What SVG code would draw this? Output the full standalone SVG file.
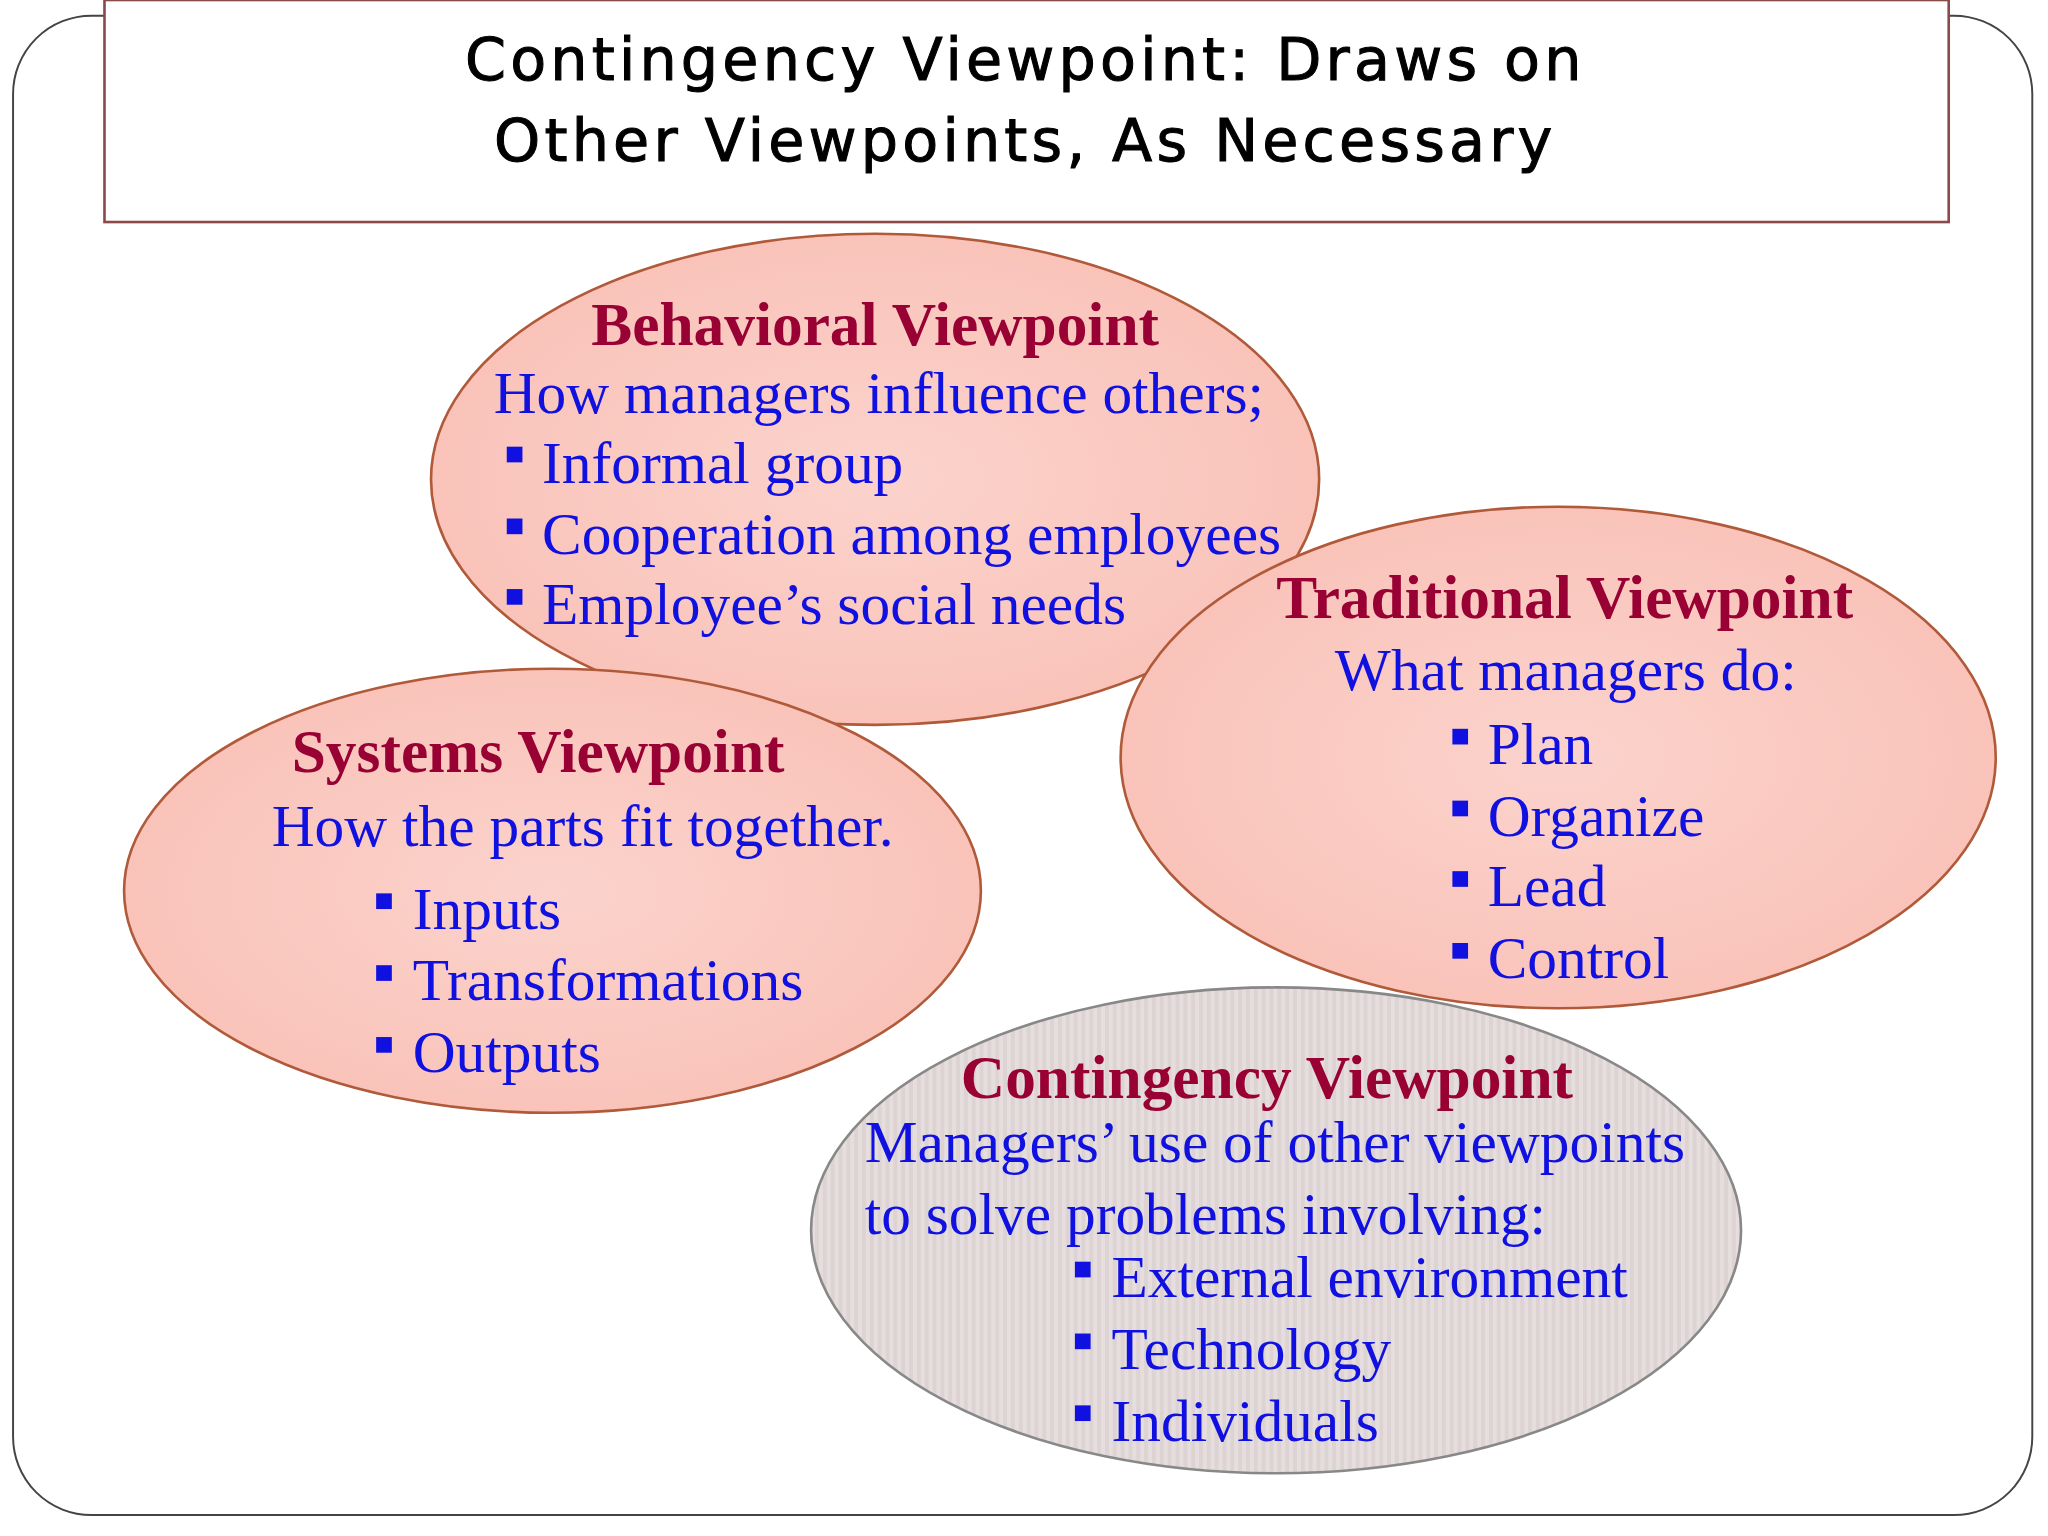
<svg xmlns="http://www.w3.org/2000/svg" width="2048" height="1536" viewBox="0 0 2048 1536">
<style>
.h{font-family:"Liberation Serif",serif;font-weight:bold;font-size:47px;fill:#990033}
.b{font-family:"Liberation Serif",serif;font-size:45.5px;fill:#1010e0}
.t{font-family:"DejaVu Sans",sans-serif;font-size:45px;fill:#000;letter-spacing:3.2px;stroke:#000;stroke-width:0.8}
.e{fill:url(#pk);stroke:#b05a3a;stroke-width:2}
.bu{fill:#1010e0}
</style>
<defs>
<radialGradient id="pk" cx="0.5" cy="0.5" r="0.6"><stop offset="0" stop-color="#fbd3cc"/><stop offset="1" stop-color="#f9c0b6"/></radialGradient>
<pattern id="st" width="6" height="6" patternUnits="userSpaceOnUse"><rect width="6" height="6" fill="#e6dede"/><rect width="3" height="6" fill="#ddd3d3"/></pattern>
</defs>
<rect width="2048" height="1536" fill="#fff"/>
<g transform="scale(1.3061)">
<rect x="10" y="12" width="1546" height="1148" rx="60" fill="#fff" stroke="#444" stroke-width="1.5"/>
<g id="title">
<rect x="80" y="0" width="1412" height="170" fill="#fff" stroke="#8a4a4a" stroke-width="2"/>
<text class="t" x="785" y="61" text-anchor="middle">Contingency Viewpoint: Draws on</text>
<text class="t" x="785" y="123" text-anchor="middle">Other Viewpoints, As Necessary</text>
</g>
<g id="behavioral">
<ellipse class="e" cx="670" cy="367" rx="340" ry="188"/>
<text class="h" x="670" y="264" text-anchor="middle">Behavioral Viewpoint</text>
<text class="b" x="378" y="316">How managers influence others;</text>
<rect class="bu" x="388" y="342" width="12" height="12"/><text class="b" x="415" y="370">Informal group</text>
<rect class="bu" x="388" y="397" width="12" height="12"/><text class="b" x="415" y="424">Cooperation among employees</text>
<rect class="bu" x="388" y="451" width="12" height="12"/><text class="b" x="415" y="478">Employee’s social needs</text>
</g>
<g id="systems">
<ellipse class="e" cx="423" cy="682" rx="328" ry="170"/>
<text class="h" x="412" y="591" text-anchor="middle">Systems Viewpoint</text>
<text class="b" x="208" y="648">How the parts fit together.</text>
<rect class="bu" x="288" y="684" width="12" height="12"/><text class="b" x="316" y="711">Inputs</text>
<rect class="bu" x="288" y="739" width="12" height="12"/><text class="b" x="316" y="766">Transformations</text>
<rect class="bu" x="288" y="794" width="12" height="12"/><text class="b" x="316" y="821">Outputs</text>
</g>
<g id="traditional">
<ellipse class="e" cx="1193" cy="580" rx="335" ry="192"/>
<text class="h" x="1198" y="473" text-anchor="middle">Traditional Viewpoint</text>
<text class="b" x="1022" y="528">What managers do:</text>
<rect class="bu" x="1112" y="558" width="12" height="12"/><text class="b" x="1139" y="585">Plan</text>
<rect class="bu" x="1112" y="613" width="12" height="12"/><text class="b" x="1139" y="640">Organize</text>
<rect class="bu" x="1112" y="667" width="12" height="12"/><text class="b" x="1139" y="694">Lead</text>
<rect class="bu" x="1112" y="722" width="12" height="12"/><text class="b" x="1139" y="749">Control</text>
</g>
<g id="contingency">
<ellipse cx="977" cy="942" rx="356" ry="186" stroke="#888" stroke-width="2" style="fill:url(#st)"/>
<text class="h" x="970" y="841" text-anchor="middle">Contingency Viewpoint</text>
<text class="b" x="662" y="890">Managers’ use of other viewpoints</text>
<text class="b" x="662" y="945">to solve problems involving:</text>
<rect class="bu" x="823" y="966" width="12" height="12"/><text class="b" x="851" y="993">External environment</text>
<rect class="bu" x="823" y="1021" width="12" height="12"/><text class="b" x="851" y="1048">Technology</text>
<rect class="bu" x="823" y="1076" width="12" height="12"/><text class="b" x="851" y="1103">Individuals</text>
</g>
<g id="connectors"/>
</g>
</svg>
